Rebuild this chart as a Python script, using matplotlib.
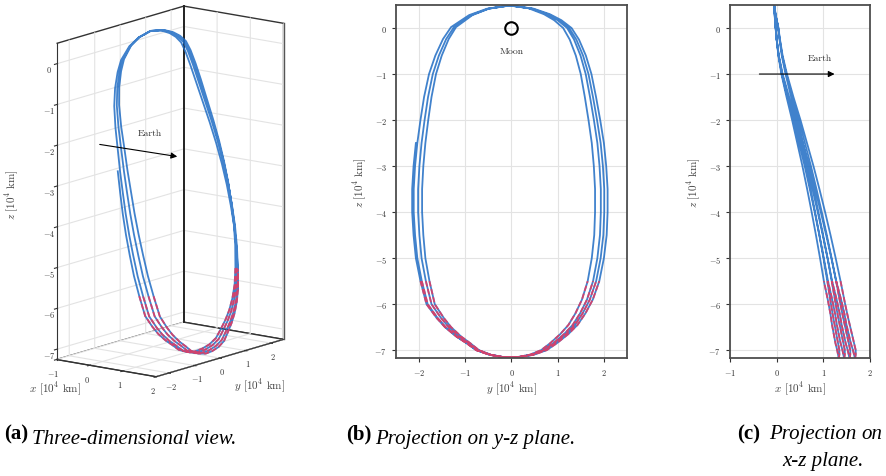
import numpy as np
import matplotlib
matplotlib.use("Agg")
import matplotlib.pyplot as plt

plt.rcParams['font.family'] = 'serif'
plt.rcParams['font.serif'] = ['cmr10']
plt.rcParams['mathtext.fontset'] = 'cm'
plt.rcParams['axes.formatter.use_mathtext'] = True
plt.rcParams['grid.color'] = '#e3e3e3'
plt.rcParams['grid.linewidth'] = 0.8

# one reference revolution, units of 10^4 km, starting at the top of the loop
orbit_y = [0.00, -0.50, -0.90, -1.30, -1.48, -1.65, -1.79, -1.90, -1.98, -2.05,
           -2.10, -2.13, -2.13, -2.10, -2.05, -1.95, -1.82, -1.60, -1.42, -1.18,
           -0.95, -0.74, -0.45, -0.10, 0.20, 0.50, 0.78, 1.00, 1.25, 1.45,
           1.62, 1.78, 1.92, 2.02, 2.08, 2.10, 2.10, 2.07, 2.02, 1.94,
           1.85, 1.75, 1.63, 1.48, 1.32, 1.10, 0.85, 0.50]
orbit_z = [0.49, 0.42, 0.28, 0.02, -0.24, -0.60, -1.00, -1.50, -2.00, -2.50,
           -3.00, -3.50, -4.00, -4.50, -5.00, -5.50, -6.00, -6.30, -6.50, -6.70,
           -6.85, -7.00, -7.10, -7.16, -7.15, -7.10, -7.00, -6.85, -6.65, -6.45,
           -6.20, -5.90, -5.50, -5.00, -4.50, -4.00, -3.50, -3.00, -2.50, -2.00,
           -1.50, -1.00, -0.60, -0.25, 0.00, 0.17, 0.30, 0.42]
orbit_x = [-0.05, -0.04, -0.02, 0.03, 0.06, 0.11, 0.19, 0.31, 0.44, 0.56,
           0.68, 0.79, 0.895, 0.995, 1.09, 1.18, 1.265, 1.32, 1.36, 1.40,
           1.43, 1.46, 1.46, 1.45, 1.44, 1.43, 1.41, 1.37, 1.33, 1.29,
           1.25, 1.19, 1.10, 1.01, 0.915, 0.815, 0.71, 0.60, 0.48, 0.36,
           0.23, 0.11, 0.04, 0.00, -0.02, -0.03, -0.04, -0.05]

# drift between successive revolutions
rev_y_scale = [1.00, 0.975, 0.935, 0.885]
rev_y_shift = [-0.02, -0.04, -0.03, -0.05]
rev_x_scale = [0.92, 1.00, 1.08, 1.16]
first_point = 9  # the trajectory begins part-way down the -y side

red_below = -5.85  # low segments drawn in red
blue = '#1f6cc4'
red = '#e8385e'

xs, ys, zs = [], [], []
for i, (sy, dy, sx) in enumerate(zip(rev_y_scale, rev_y_shift, rev_x_scale)):
    start = first_point if i == 0 else 0
    xs.append(np.array(orbit_x[start:]) * sx)
    ys.append(np.array(orbit_y[start:]) * sy + dy)
    zs.append(np.array(orbit_z[start:]))
x = np.concatenate(xs)
y = np.concatenate(ys)
z = np.concatenate(zs)
low = z < red_below
low = low | np.roll(low, 1) | np.roll(low, -1)
x_r = np.where(low, x, np.nan)
y_r = np.where(low, y, np.nan)
z_r = np.where(low, z, np.nan)

fig = plt.figure(figsize=(8.87, 4.77), dpi=100)
line_kw = dict(lw=1.3, alpha=0.85)
red_kw = dict(lw=1.3, alpha=0.85, dashes=(3, 1.5))
lab_kw = dict(fontsize=8, color='#444444')


def style2d(ax):
    ax.grid(True)
    ax.set_axisbelow(True)
    ax.tick_params(direction='out', length=3, width=0.8, labelsize=6,
                   colors='#333333')
    for s in ax.spines.values():
        s.set_linewidth(1.3)
        s.set_color('#4d4d4d')
    ax.set_ylim(-7.17, 0.5)
    ax.set_yticks(range(-7, 1))


# (a) 3-D view
ax3 = fig.add_axes([-0.005, 0.187, 0.383, 0.8], projection='3d',
                   computed_zorder=False)
ax3.set_proj_type('ortho')
ax3.view_init(elev=13, azim=-52.5)
xlim3, ylim3, zlim3 = (-1, 2), (-2.5, 2.5), (-7.25, 0.5)
ax3.set_xlim(xlim3)
ax3.set_ylim(ylim3)
ax3.set_zlim(zlim3)
ax3.set_box_aspect((3, 5, 7.75), zoom=1.16)
# dark back corner and right wall edge, behind the trajectory
edges = [ax3.plot([xlim3[0]] * 2, [ylim3[1]] * 2, zlim3, color='#222222', lw=1.4)[0],
         ax3.plot([xlim3[1]] * 2, [ylim3[1]] * 2, zlim3, color='#555555', lw=1.0)[0]]
for e in edges:
    e.set_clip_on(False)
ax3.plot(x, y, z, color=blue, **line_kw)[0].set_clip_on(False)
ax3.plot(x_r, y_r, z_r, color=red, **red_kw)[0].set_clip_on(False)
ax3.set_xticks(range(-1, 3))
ax3.set_yticks(range(-2, 3))
ax3.set_zticks(range(-7, 1))
ax3.zaxis.set_ticks_position('lower')
ax3.tick_params(labelsize=6, colors='#333333')
ax3.xaxis.set_tick_params(pad=-5)
ax3.yaxis.set_tick_params(pad=-5)
ax3.zaxis.set_tick_params(pad=-4)
for a in (ax3.xaxis, ax3.yaxis, ax3.zaxis):
    a.set_pane_color((1, 1, 1, 1))
    a.pane.set_edgecolor('#333333')
    a.line.set_color('#333333')
ax3.set_facecolor('none')

fig.text(55 / 887, 1 - 389 / 477, r'$x$ [$10^4$ km]', ha='center', va='center', **lab_kw)
fig.text(260 / 887, 1 - 386 / 477, r'$y$ [$10^4$ km]', ha='center', va='center', **lab_kw)
fig.text(12 / 887, 1 - 195 / 477, r'$z$ [$10^4$ km]', ha='center', va='center',
         rotation=90, **lab_kw)
fig.add_artist(plt.Annotation('', xy=(180 / 887, 1 - 158 / 477),
                              xytext=(97 / 887, 1 - 145 / 477),
                              xycoords='figure fraction',
                              arrowprops=dict(arrowstyle='-|>', color='k', lw=0.8,
                                              mutation_scale=9)))
fig.text(150 / 887, 1 - 134 / 477, 'Earth', ha='center', va='center', fontsize=7,
         color='#333333')

# (b) y-z projection
axb = fig.add_axes([396 / 887, 1 - 359 / 477, 231 / 887, 353 / 477])
style2d(axb)
axb.plot(y, z, color=blue, **line_kw)
axb.plot(y_r, z_r, color=red, **red_kw)
axb.plot(0, 0, 'o', mfc='none', mec='k', ms=9, mew=1.5)
axb.text(0, -0.5, 'Moon', ha='center', va='center', fontsize=7, color='#333333')
axb.set_xlim(-2.5, 2.5)
axb.set_xticks(range(-2, 3))
axb.set_xlabel(r'$y$ [$10^4$ km]', labelpad=2, **lab_kw)
axb.set_ylabel(r'$z$ [$10^4$ km]', labelpad=4, **lab_kw)

# (c) x-z projection
axc = fig.add_axes([730 / 887, 1 - 359 / 477, 140 / 887, 353 / 477])
style2d(axc)
axc.plot(x, z, color=blue, **line_kw)
axc.plot(x_r, z_r, color=red, **red_kw)
axc.set_xlim(-1, 2)
axc.set_xticks(range(-1, 3))
axc.annotate('', xy=(1.3, -1), xytext=(-0.43, -1),
             arrowprops=dict(arrowstyle='-|>', color='k', lw=0.8, mutation_scale=9))
axc.text(0.92, -0.64, 'Earth', ha='center', va='center', fontsize=7, color='#333333')
axc.set_xlabel(r'$x$ [$10^4$ km]', labelpad=2, **lab_kw)
axc.set_ylabel(r'$z$ [$10^4$ km]', labelpad=4, **lab_kw)

# sub-captions: bold tag followed by italic text
cap = dict(family='Liberation Serif', fontsize=15, va='baseline')


def caption(px, py, tag, text):
    t = fig.text(px / 887, 1 - py / 477, tag, fontweight='bold', **cap)
    fig.add_artist(plt.Annotation(text, xy=(1, 0), xycoords=t,
                                  xytext=(3, 0), textcoords='offset points',
                                  style='italic', **cap))


caption(4, 439, '(a)', 'Three-dimensional view.')
caption(346, 439, '(b)', 'Projection on y-z plane.')
fig.text(737 / 887, 1 - 439 / 477, '(c)', fontweight='bold', **cap)
fig.text(769 / 887, 1 - 439 / 477, 'Projection', style='italic', **cap)
fig.text(882 / 887, 1 - 439 / 477, 'on', style='italic', ha='right', **cap)
fig.text(782 / 887, 1 - 466 / 477, 'x-z plane.', style='italic', **cap)

fig.savefig('out.png', dpi=100)
